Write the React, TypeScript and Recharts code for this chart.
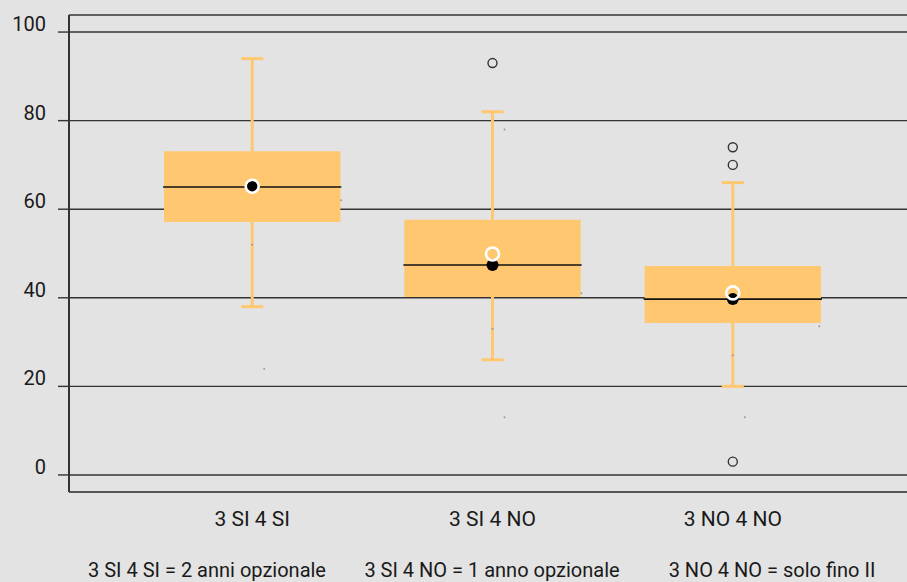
import React from 'react';
import {
  ComposedChart,
  XAxis,
  YAxis,
  CartesianGrid,
  ReferenceArea,
  ReferenceLine,
  Scatter,
} from 'recharts';

// one box per group
const categories = ['3 SI 4 SI', '3 SI 4 NO', '3 NO 4 NO'];
const positions = [1, 2, 3];
const whiskerLow = [38, 26, 20];
const q1 = [57.1, 40.2, 34.3];
const medians = [65, 47.4, 39.7];
const q3 = [73.1, 57.6, 47.2];
const whiskerHigh = [94, 82, 66];
const means = [65.2, 49.9, 41.1];

const outlierPos = [2, 3, 3, 3];
const outlierValues = [93, 74, 70, 3];

// faint stray points
const speckX = [1.05, 1.37, 1.0, 2.05, 2.0, 2.05, 2.37, 3.0, 3.05, 3.36];
const speckY = [24, 62, 52, 78, 33, 13, 41, 27, 13, 33.6];

const yTicks = [0, 20, 40, 60, 80, 100];
const notes = ['3 SI 4 SI = 2 anni opzionale', '3 SI 4 NO = 1 anno opzionale', '3 NO 4 NO = solo fino II'];
const noteCenters = [207, 492, 772];

const BOX = '#ffc76f';
const FONT = 'Roboto, "DejaVu Sans", sans-serif';
const boxHalf = 0.367;
const capHalf = 0.046;

const medianPts = positions.map((x, i) => ({ x, y: medians[i] }));
const meanPts = positions.map((x, i) => ({ x, y: means[i] }));
const outlierPts = outlierPos.map((x, i) => ({ x, y: outlierValues[i] }));
const speckPts = speckX.map((x, i) => ({ x, y: speckY[i] }));

const YTick = (props: any) => (
  <text x={props.x} y={props.y - 1} textAnchor="end" fontSize={20} fontFamily={FONT} fill="#1a1a1a">
    {props.payload.value}
  </text>
);

const XTick = (props: any) => (
  <text x={props.x} y={props.y + 34} textAnchor="middle" fontSize={21} fontFamily={FONT} fill="#1a1a1a">
    {categories[props.payload.value - 1]}
  </text>
);

export default function App() {
  return (
    <div style={{ position: 'absolute', left: 0, top: 0, width: 907, height: 582, background: '#e3e3e3' }}>
      <ComposedChart width={907} height={582} margin={{ top: 15, right: 0, left: 0, bottom: 0 }}>
        <CartesianGrid horizontal vertical={false} stroke="#333" strokeWidth={1.4} />
        <XAxis
          dataKey="x"
          type="number"
          domain={[0.2375, 3.725]}
          allowDataOverflow
          ticks={positions}
          height={90}
          tickLine={false}
          tickSize={0}
          tickMargin={0}
          tick={<XTick />}
          axisLine={{ stroke: '#555', strokeWidth: 2 }}
        />
        <XAxis
          xAxisId="top"
          orientation="top"
          type="number"
          domain={[0.2375, 3.725]}
          height={0}
          tick={false}
          tickLine={false}
          axisLine={{ stroke: '#666', strokeWidth: 2 }}
        />
        <YAxis
          dataKey="y"
          type="number"
          domain={[-3.85, 103.85]}
          allowDataOverflow
          ticks={yTicks}
          width={69}
          tickSize={11}
          tickMargin={12}
          tick={<YTick />}
          tickLine={{ stroke: '#333', strokeWidth: 1.4 }}
          axisLine={{ stroke: '#333', strokeWidth: 2 }}
        />

        {positions.map((x, i) => (
          <ReferenceArea
            key={'box' + i}
            x1={x - boxHalf}
            x2={x + boxHalf}
            y1={q1[i]}
            y2={q3[i]}
            fill={BOX}
            fillOpacity={1}
            stroke="none"
          />
        ))}
        {positions.map((x, i) => (
          <ReferenceLine
            key={'up' + i}
            segment={[{ x, y: q3[i] }, { x, y: whiskerHigh[i] }]}
            stroke={BOX}
            strokeWidth={3}
          />
        ))}
        {positions.map((x, i) => (
          <ReferenceLine
            key={'lo' + i}
            segment={[{ x, y: whiskerLow[i] }, { x, y: q1[i] }]}
            stroke={BOX}
            strokeWidth={3}
          />
        ))}
        {positions.map((x, i) => (
          <ReferenceLine
            key={'capHi' + i}
            segment={[{ x: x - capHalf, y: whiskerHigh[i] }, { x: x + capHalf, y: whiskerHigh[i] }]}
            stroke={BOX}
            strokeWidth={3}
          />
        ))}
        {positions.map((x, i) => (
          <ReferenceLine
            key={'capLo' + i}
            segment={[{ x: x - capHalf, y: whiskerLow[i] }, { x: x + capHalf, y: whiskerLow[i] }]}
            stroke={BOX}
            strokeWidth={3}
          />
        ))}
        {positions.map((x, i) => (
          <ReferenceLine
            key={'med' + i}
            segment={[{ x: x - boxHalf - 0.004, y: medians[i] }, { x: x + boxHalf + 0.004, y: medians[i] }]}
            stroke="#111"
            strokeWidth={1.6}
          />
        ))}

        <Scatter
          data={speckPts}
          isAnimationActive={false}
          shape={(p: any) => <circle cx={p.cx} cy={p.cy} r={1} fill="#999" />}
        />
        <Scatter
          data={outlierPts}
          isAnimationActive={false}
          shape={(p: any) => <circle cx={p.cx} cy={p.cy} r={4.5} fill="none" stroke="#333" strokeWidth={1.4} />}
        />
        <Scatter
          data={medianPts}
          isAnimationActive={false}
          shape={(p: any) => <circle cx={p.cx} cy={p.cy} r={6} fill="#000" />}
        />
        <Scatter
          data={meanPts}
          isAnimationActive={false}
          shape={(p: any) => <circle cx={p.cx} cy={p.cy} r={6.5} fill="none" stroke="#fff" strokeWidth={2.6} />}
        />
      </ComposedChart>
      {notes.map((t, i) => (
        <div
          key={t}
          style={{
            position: 'absolute',
            top: 560,
            left: noteCenters[i] - 150,
            width: 300,
            textAlign: 'center',
            fontFamily: FONT,
            fontSize: 20,
            lineHeight: '20px',
            color: '#1a1a1a',
            whiteSpace: 'nowrap',
          }}
        >
          {t}
        </div>
      ))}
    </div>
  );
}
